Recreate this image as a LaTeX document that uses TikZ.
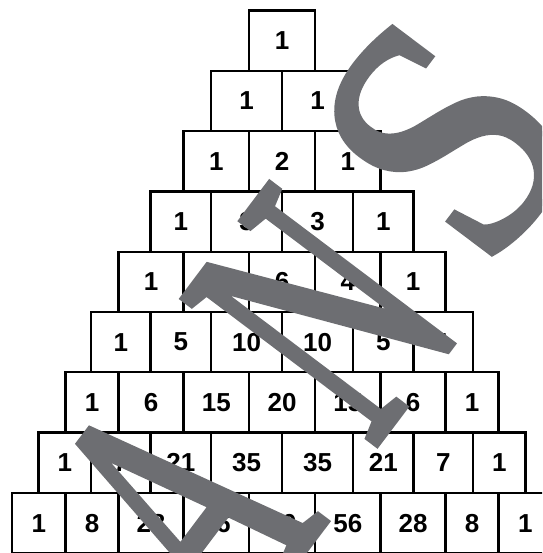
\documentclass[tikz,border=0pt]{standalone}
\usepackage{fontspec}
\setmainfont{Liberation Sans}
\newfontfamily\wmfont[FakeBold=2]{Liberation Serif}
\definecolor{wmgray}{RGB}{109,110,114}
\tikzset{
  box/.style={draw=black, line width=1.3pt},
  num/.style={font=\fontsize{14.8}{16}\selectfont\bfseries, inner sep=0pt},
  wm/.style={text=wmgray, inner sep=0pt, anchor=base west, rotate=53, transform shape}
}
\begin{document}
\begin{tikzpicture}[x=0.02cm,y=-0.02cm]
	  \useasboundingbox (0,0) rectangle (542,553);
	  \clip (0,0) rectangle (542,553);
	  % row 1
	  \foreach \l/\r/\n [count=\i] in {249/315/1}
	    \draw[box] (\l,10.5) rectangle (\r,70.8) node[num] (r1c\i) at ({(\l+\r)/2},40.65) {\n};
	  % row 2
	  \foreach \l/\r/\n [count=\i] in {211/282/1,282/353/1}
	    \draw[box] (\l,70.8) rectangle (\r,131.1) node[num] (r2c\i) at ({(\l+\r)/2},100.95) {\n};
	  % row 3
	  \foreach \l/\r/\n [count=\i] in {183.5/249/1,249/315/2,315/380.5/1}
	    \draw[box] (\l,131.1) rectangle (\r,191.4) node[num] (r3c\i) at ({(\l+\r)/2},161.25) {\n};
	  % row 4
	  \foreach \l/\r/\n [count=\i] in {150.5/211/1,211/282/3,282/353/3,353/413.5/1}
	    \draw[box] (\l,191.4) rectangle (\r,251.7) node[num] (r4c\i) at ({(\l+\r)/2},221.55) {\n};
	  % row 5
	  \foreach \l/\r/\n [count=\i] in {118.5/183.5/1,183.5/249/4,249/315/6,315/380.5/4,380.5/445.5/1}
	    \draw[box] (\l,251.7) rectangle (\r,312) node[num] (r5c\i) at ({(\l+\r)/2},281.85) {\n};
	  % row 6
	  \foreach \l/\r/\n [count=\i] in {91/150.5/1,150.5/211/5,211/282/10,282/353/10,353/413.5/5,413.5/473/1}
	    \draw[box] (\l,312) rectangle (\r,372.3) node[num] (r6c\i) at ({(\l+\r)/2},342.15) {\n};
	  % row 7
	  \foreach \l/\r/\n [count=\i] in {65.5/118.5/1,118.5/183.5/6,183.5/249/15,249/315/20,315/380.5/15,380.5/445.5/6,445.5/498.5/1}
	    \draw[box] (\l,372.3) rectangle (\r,432.6) node[num] (r7c\i) at ({(\l+\r)/2},402.45) {\n};
	  % row 8
	  \foreach \l/\r/\n [count=\i] in {38.5/91/1,91/150.5/7,150.5/211/21,211/282/35,282/353/35,353/413.5/21,413.5/473/7,473/525.5/1}
	    \draw[box] (\l,432.6) rectangle (\r,492.9) node[num] (r8c\i) at ({(\l+\r)/2},462.75) {\n};
	  % row 9
	  \foreach \l/\r/\n [count=\i] in {12/65.5/1,65.5/118.5/8,118.5/183.5/28,183.5/249/56,249/315/70,315/380.5/56,380.5/445.5/28,445.5/498.5/8,498.5/552/1}
	    \draw[box] (\l,492.9) rectangle (\r,553.2) node[num] (r9c\i) at ({(\l+\r)/2},523.05) {\n};
	  % watermark
	  \node[wm, xscale=0.59, font=\wmfont\fontsize{210}{210}\selectfont] (wmA) at (233,645) {A};
	  \node[wm, xscale=0.59, font=\wmfont\fontsize{210}{210}\selectfont] (wmN) at (372,450) {N};
	  \node[wm, xscale=0.88, font=\wmfont\fontsize{198}{198}\selectfont] (wmS) at (486,275) {S};
	\end{tikzpicture}
\end{document}
